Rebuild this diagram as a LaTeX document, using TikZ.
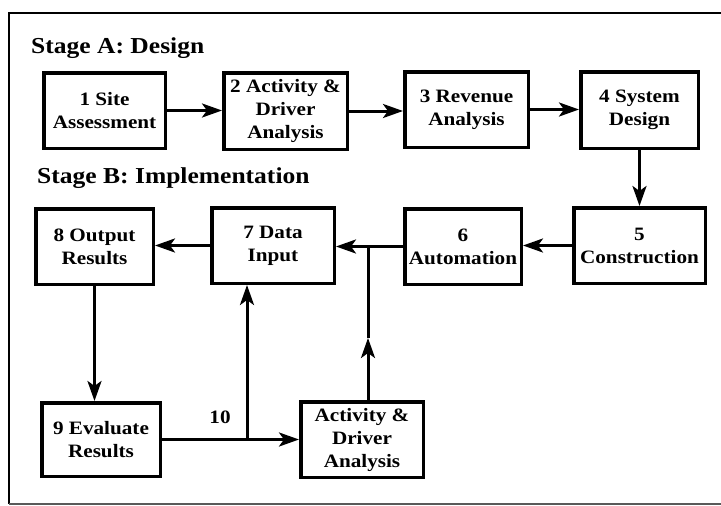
\documentclass[tikz,border=0pt]{standalone}
\usepackage{fontspec}
\setmainfont{Liberation Serif}[FakeStretch=1.12]
\usetikzlibrary{arrows.meta}
\begin{document}
\begin{tikzpicture}[x=1pt,y=-1pt,
  box/.style={draw, line width=3.5pt, inner sep=0pt, align=center,
    font=\fontsize{18.9}{23}\selectfont\bfseries},
  conn/.style={line width=3pt, -{Stealth[length=20pt,width=14pt,inset=5pt]}},
  plainline/.style={line width=3pt},
  stagelbl/.style={anchor=base west, inner sep=0pt,
    font=\fontsize{22.8}{26}\selectfont\bfseries},
  numlbl/.style={anchor=base, inner sep=0pt,
    font=\fontsize{18.9}{23}\selectfont\bfseries}]
\useasboundingbox (0,0) rectangle (721,506);
\fill[white] (0,0) rectangle (721,506);
\begin{scope}
\clip (0,0) rectangle (721,506);
\draw[line width=2.5pt] (730,13) -- (9,13) -- (9,504);
\draw[line width=2pt, black!65] (9,504) -- (730,504);
\end{scope}

\node[stagelbl] (sa) at (31,53.5) {Stage A: Design};
\node[stagelbl] (sb) at (37,183.5) {Stage B: Implementation};

\node[box, minimum width=121.5pt, minimum height=75.5pt] (b1) at (104.5,110.5) {1 Site\\Assessment};
\node[box, minimum width=123.5pt, minimum height=76.5pt] (b2) at (285.5,111) {2 Activity \&\\Driver\\Analysis};
\node[box, minimum width=123.5pt, minimum height=75.5pt] (b3) at (466.5,109.5) {3 Revenue\\Analysis};
\node[box, minimum width=117.5pt, minimum height=76.5pt] (b4) at (639.5,110) {4 System\\Design};
\node[box, minimum width=131.5pt, minimum height=75.5pt] (b5) at (639.5,245.5) {5\\Construction};
\node[box, minimum width=116.5pt, minimum height=75.5pt] (b6) at (463,246.5) {6\\Automation};
\node[box, minimum width=122.5pt, minimum height=75.5pt] (b7) at (273,245.5) {7 Data\\Input};
\node[box, minimum width=117.5pt, minimum height=75.5pt] (b8) at (94.5,246.5) {8 Output\\Results};
\node[box, minimum width=118.5pt, minimum height=73.5pt] (b9) at (101,439.5) {9 Evaluate\\Results};
\node[box, minimum width=122.5pt, minimum height=75.5pt] (act) at (362,439.5) {Activity \&\\Driver\\Analysis};

\node[numlbl] (ten) at (220,423) {10};

\coordinate (j1) at (368,246);
\coordinate (j2) at (247,440);
\coordinate (mid) at (368,338);

\draw[conn] (b1.east) -- (b1.east -| b2.west);
\draw[conn] (b2.east) -- (b2.east -| b3.west);
\draw[conn] (b3.east) -- (b3.east -| b4.west);
\draw[conn] (b4.south) -- (b4.south |- b5.north);
\draw[conn] (b5.west) -- (b5.west -| b6.east);
\draw[conn] (b6.west) -- (b6.west -| b7.east);
\draw[conn] (b7.west) -- (b7.west -| b8.east);
\draw[conn] (b8.south) -- (b8.south |- b9.north);
\draw[conn] (b9.east) -- (b9.east -| act.west);
\draw[conn] (j2) -- (j2 |- b7.south);
\draw[conn] (mid |- act.north) -- (mid);
\draw[plainline] (mid) -- (j1);
\end{tikzpicture}
\end{document}
